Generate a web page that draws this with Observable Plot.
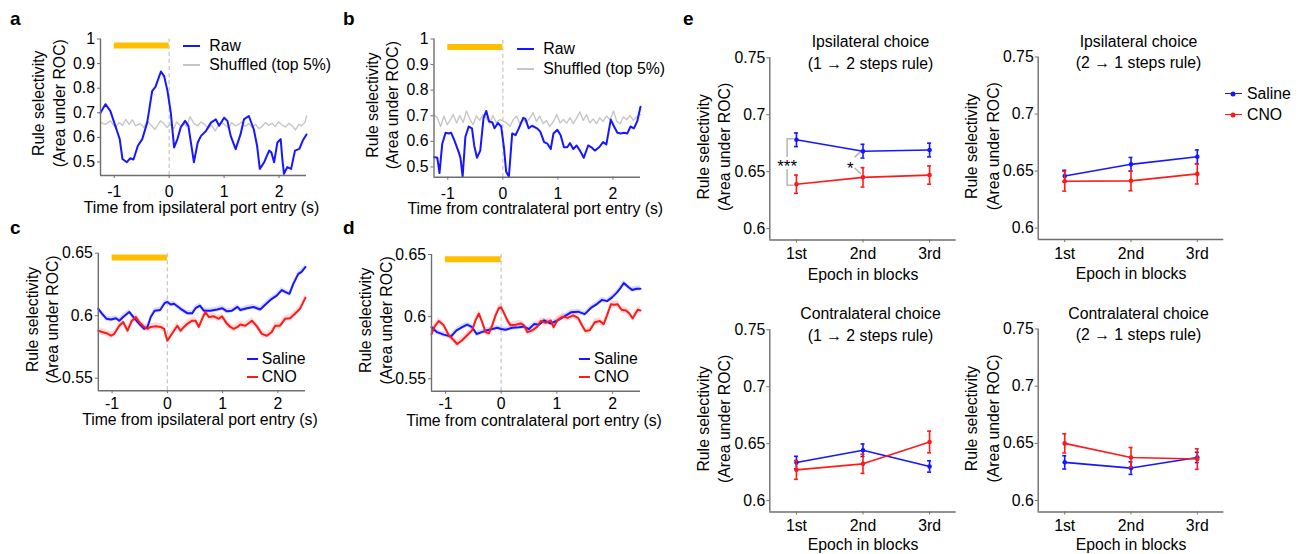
<!DOCTYPE html>
<html><head><meta charset="utf-8">
<script src="https://cdn.jsdelivr.net/npm/d3@7"></script>
<script src="https://cdn.jsdelivr.net/npm/@observablehq/plot@0.6"></script>
<style>
body{margin:0;background:#fff;}
#fig{position:relative;width:1300px;height:554px;overflow:hidden;font-family:"Liberation Sans",Arial,Helvetica,sans-serif;color:#000;background:#fff;}
.lab{position:absolute;font-weight:bold;font-size:19px;line-height:1;}
.leg{position:absolute;display:flex;align-items:center;height:20px;font-size:15.8px;white-space:nowrap;}
.sw{display:inline-block;position:relative;}
</style></head><body><div id="fig"></div>
<script>
// ---------------- data ----------------
const timeTicks = [-1, 0, 1, 2];
const rocTicksAB = [0.5, 0.6, 0.7, 0.8, 0.9, 1];
const rocTicksCD = [0.55, 0.6, 0.65];
const epochTicks = [0.6, 0.65, 0.7, 0.75];
const epochs = ["1st", "2nd", "3rd"];
const epochIndex = [1, 2, 3];
const cueWindow = [-1, 0];
const legendAB = ["Raw", "Shuffled (top 5%)"];
const legendGroups = ["Saline", "CNO"];
const sigLabels = ["***", "*"];

const rawA = [[-1.25,0.700],[-1.16,0.735],[-1.07,0.707],[-0.98,0.647],[-0.94,0.620],[-0.90,0.593],[-0.85,0.512],[-0.77,0.499],[-0.71,0.515],[-0.65,0.510],[-0.57,0.566],[-0.49,0.593],[-0.40,0.660],[-0.31,0.788],[-0.25,0.805],[-0.15,0.868],[-0.09,0.848],[-0.03,0.788],[0.03,0.700],[0.09,0.559],[0.15,0.593],[0.21,0.640],[0.29,0.667],[0.35,0.647],[0.45,0.499],[0.52,0.579],[0.58,0.606],[0.67,0.626],[0.76,0.660],[0.85,0.673],[0.91,0.647],[1.00,0.680],[1.06,0.667],[1.12,0.606],[1.21,0.552],[1.30,0.613],[1.36,0.673],[1.45,0.687],[1.54,0.633],[1.60,0.566],[1.65,0.472],[1.73,0.499],[1.82,0.546],[1.86,0.539],[1.91,0.499],[1.97,0.579],[2.03,0.593],[2.06,0.512],[2.09,0.452],[2.15,0.479],[2.22,0.472],[2.29,0.546],[2.37,0.553],[2.43,0.586],[2.50,0.612]];
const shufA = [[-1.25,0.660],[-1.16,0.653],[-1.07,0.667],[-0.98,0.640],[-0.91,0.660],[-0.85,0.649],[-0.79,0.673],[-0.73,0.653],[-0.67,0.671],[-0.61,0.647],[-0.53,0.657],[-0.46,0.640],[-0.40,0.667],[-0.32,0.647],[-0.26,0.633],[-0.21,0.649],[-0.16,0.667],[-0.10,0.657],[-0.04,0.640],[0.02,0.653],[0.08,0.636],[0.14,0.663],[0.20,0.647],[0.26,0.657],[0.32,0.644],[0.38,0.684],[0.45,0.657],[0.52,0.647],[0.58,0.663],[0.65,0.652],[0.71,0.636],[0.77,0.649],[0.84,0.626],[0.90,0.652],[0.96,0.660],[1.02,0.649],[1.08,0.638],[1.14,0.660],[1.20,0.647],[1.26,0.653],[1.32,0.663],[1.38,0.644],[1.45,0.656],[1.51,0.640],[1.57,0.653],[1.63,0.636],[1.69,0.644],[1.75,0.660],[1.81,0.649],[1.87,0.657],[1.93,0.644],[1.99,0.663],[2.05,0.651],[2.12,0.642],[2.18,0.657],[2.24,0.647],[2.30,0.630],[2.36,0.653],[2.41,0.647],[2.47,0.660],[2.50,0.687]];
const rawB = [[-1.25,0.539],[-1.19,0.536],[-1.15,0.476],[-1.10,0.591],[-1.04,0.634],[-0.98,0.631],[-0.94,0.634],[-0.88,0.604],[-0.80,0.557],[-0.77,0.536],[-0.73,0.462],[-0.68,0.618],[-0.62,0.658],[-0.56,0.651],[-0.52,0.584],[-0.47,0.536],[-0.41,0.564],[-0.35,0.692],[-0.30,0.719],[-0.25,0.678],[-0.19,0.674],[-0.15,0.651],[-0.09,0.672],[-0.03,0.658],[0.02,0.577],[0.06,0.482],[0.11,0.462],[0.17,0.631],[0.23,0.624],[0.29,0.651],[0.37,0.692],[0.41,0.688],[0.47,0.651],[0.53,0.661],[0.62,0.651],[0.68,0.638],[0.75,0.597],[0.81,0.591],[0.87,0.570],[0.92,0.631],[0.99,0.645],[1.05,0.624],[1.11,0.577],[1.17,0.577],[1.22,0.593],[1.28,0.570],[1.34,0.584],[1.40,0.564],[1.47,0.536],[1.55,0.584],[1.61,0.577],[1.67,0.564],[1.75,0.577],[1.82,0.597],[1.88,0.588],[1.96,0.685],[2.02,0.658],[2.08,0.634],[2.14,0.631],[2.20,0.634],[2.26,0.631],[2.32,0.658],[2.38,0.651],[2.44,0.678],[2.50,0.735]];
const shufB = [[-1.25,0.705],[-1.19,0.692],[-1.13,0.658],[-1.07,0.699],[-1.01,0.665],[-0.95,0.685],[-0.90,0.705],[-0.84,0.672],[-0.78,0.701],[-0.72,0.674],[-0.66,0.719],[-0.60,0.688],[-0.54,0.665],[-0.48,0.699],[-0.42,0.682],[-0.36,0.705],[-0.30,0.692],[-0.24,0.669],[-0.18,0.701],[-0.12,0.674],[-0.05,0.685],[0.01,0.678],[0.07,0.672],[0.13,0.658],[0.19,0.685],[0.25,0.699],[0.31,0.669],[0.37,0.685],[0.43,0.674],[0.49,0.692],[0.55,0.712],[0.61,0.678],[0.67,0.699],[0.73,0.669],[0.79,0.682],[0.85,0.658],[0.92,0.678],[0.98,0.705],[1.04,0.672],[1.10,0.685],[1.16,0.672],[1.22,0.692],[1.28,0.669],[1.34,0.692],[1.40,0.715],[1.46,0.682],[1.52,0.705],[1.58,0.672],[1.64,0.688],[1.70,0.669],[1.76,0.692],[1.82,0.678],[1.88,0.699],[1.95,0.685],[2.01,0.719],[2.07,0.678],[2.13,0.669],[2.19,0.696],[2.25,0.685],[2.31,0.701],[2.37,0.682],[2.43,0.696],[2.50,0.705]];
const salineC = [[-1.25,0.6055],[-1.18,0.6015],[-1.10,0.5975],[-1.02,0.597],[-0.93,0.598],[-0.87,0.596],[-0.80,0.599],[-0.69,0.603],[-0.60,0.598],[-0.51,0.5935],[-0.42,0.5895],[-0.36,0.591],[-0.30,0.599],[-0.23,0.604],[-0.13,0.6045],[-0.05,0.610],[0.00,0.611],[0.06,0.609],[0.12,0.6095],[0.24,0.6055],[0.36,0.602],[0.45,0.602],[0.51,0.606],[0.59,0.608],[0.66,0.604],[0.78,0.604],[0.90,0.605],[0.99,0.606],[1.08,0.6035],[1.17,0.604],[1.27,0.607],[1.32,0.6045],[1.44,0.606],[1.56,0.607],[1.68,0.605],[1.80,0.610],[1.89,0.6135],[1.98,0.616],[2.07,0.6205],[2.13,0.619],[2.21,0.6175],[2.28,0.6255],[2.37,0.6335],[2.43,0.635],[2.50,0.639]];
const cnoC = [[-1.25,0.588],[-1.18,0.587],[-1.10,0.586],[-1.02,0.584],[-0.96,0.5855],[-0.87,0.592],[-0.80,0.595],[-0.72,0.588],[-0.65,0.5955],[-0.57,0.599],[-0.51,0.595],[-0.42,0.591],[-0.36,0.5895],[-0.30,0.591],[-0.21,0.5915],[-0.12,0.591],[-0.06,0.5895],[0.00,0.580],[0.06,0.584],[0.12,0.588],[0.18,0.592],[0.24,0.588],[0.30,0.591],[0.36,0.5935],[0.45,0.596],[0.51,0.596],[0.57,0.591],[0.63,0.5975],[0.69,0.603],[0.75,0.599],[0.84,0.5995],[0.93,0.5975],[0.99,0.5995],[1.08,0.5935],[1.14,0.591],[1.20,0.5895],[1.27,0.591],[1.32,0.593],[1.41,0.592],[1.53,0.596],[1.62,0.5915],[1.71,0.5855],[1.80,0.584],[1.89,0.587],[1.95,0.592],[2.04,0.592],[2.13,0.5975],[2.22,0.598],[2.31,0.6015],[2.40,0.6055],[2.50,0.6145]];
const salineD = [[-1.25,0.5915],[-1.15,0.5875],[-1.03,0.5855],[-0.90,0.584],[-0.80,0.589],[-0.70,0.5915],[-0.61,0.5935],[-0.52,0.5915],[-0.44,0.586],[-0.35,0.5875],[-0.25,0.589],[-0.16,0.590],[-0.07,0.591],[0.00,0.590],[0.08,0.5895],[0.20,0.591],[0.32,0.5915],[0.41,0.592],[0.50,0.590],[0.59,0.594],[0.68,0.5935],[0.77,0.597],[0.89,0.5945],[1.01,0.597],[1.13,0.600],[1.25,0.6035],[1.38,0.604],[1.50,0.602],[1.61,0.607],[1.73,0.6105],[1.81,0.6135],[1.90,0.6125],[1.99,0.6155],[2.08,0.6195],[2.14,0.623],[2.20,0.627],[2.29,0.6235],[2.35,0.6215],[2.43,0.6225],[2.50,0.6225]];
const cnoD = [[-1.25,0.586],[-1.20,0.5915],[-1.12,0.5965],[-1.03,0.593],[-0.94,0.585],[-0.85,0.581],[-0.79,0.578],[-0.70,0.581],[-0.61,0.585],[-0.52,0.589],[-0.46,0.597],[-0.40,0.6025],[-0.34,0.5955],[-0.28,0.5875],[-0.22,0.5865],[-0.16,0.593],[-0.10,0.601],[-0.04,0.607],[0.00,0.6075],[0.06,0.602],[0.11,0.597],[0.17,0.593],[0.26,0.5935],[0.35,0.5945],[0.41,0.593],[0.47,0.5875],[0.56,0.589],[0.65,0.592],[0.71,0.5965],[0.80,0.595],[0.89,0.597],[0.94,0.5915],[1.01,0.597],[1.10,0.600],[1.19,0.599],[1.29,0.601],[1.38,0.599],[1.45,0.593],[1.51,0.5885],[1.59,0.589],[1.68,0.5955],[1.77,0.5965],[1.84,0.594],[1.90,0.601],[1.97,0.610],[2.03,0.6095],[2.09,0.610],[2.16,0.6055],[2.24,0.605],[2.30,0.6025],[2.36,0.5985],[2.41,0.6025],[2.45,0.6055],[2.50,0.605]];
const semSalineCD = 0.0021;
const semCnoCD = 0.0027;

// panel e: means and SEM per epoch
const ipsi12Saline = [0.678, 0.668, 0.669],   ipsi12SalineSem = [0.006, 0.006, 0.006];
const ipsi12Cno = [0.639, 0.645, 0.647],      ipsi12CnoSem = [0.008, 0.0085, 0.008];
const ipsi21Saline = [0.6457, 0.6559, 0.6625], ipsi21SalineSem = [0.005, 0.006, 0.006];
const ipsi21Cno = [0.6411, 0.6414, 0.6475],   ipsi21CnoSem = [0.0087, 0.0087, 0.0088];
const contra12Saline = [0.6334, 0.6442, 0.630], contra12SalineSem = [0.0055, 0.0055, 0.005];
const contra12Cno = [0.627, 0.6323, 0.6515],  contra12CnoSem = [0.0083, 0.0084, 0.0095];
const contra21Saline = [0.6334, 0.6284, 0.6377], contra21SalineSem = [0.0058, 0.0055, 0.0045];
const contra21Cno = [0.650, 0.6377, 0.6363],  contra21CnoSem = [0.0084, 0.0087, 0.009];

// ---------------- style ----------------
const FONT = '"Liberation Sans", Arial, Helvetica, sans-serif';
const FS = 15.8;
const BLUE = "#1616ff", RED = "#ff1a1a", SHUF = "#c6c6c6", AXIS = "#6e6e6e", GOLD = "#ffbf00";
const YLABEL = "Rule selectivity\n(Area under ROC)";
const fig = document.getElementById("fig");

function place(box, frame, opts) {
  const [ox, oy, w, h] = box;
  const svg = Plot.plot({
    width: w, height: h,
    marginLeft: frame.L - ox, marginRight: ox + w - frame.R,
    marginTop: frame.T - oy, marginBottom: oy + h - frame.B,
    style: {position: "absolute", left: ox + "px", top: oy + "px", background: "transparent",
            overflow: "visible", fontFamily: FONT, fontSize: FS + "px", maxWidth: "none", color: "#000"},
    ...opts
  });
  fig.appendChild(svg);
}

function timePanel(p) {
  const X = d => d[0], Y = d => d[1];
  const marks = [];
  for (const s of p.series) if (s.sem) marks.push(Plot.areaY(s.data, {x: X, y1: d => d[1] - s.sem, y2: d => d[1] + s.sem, fill: s.band, fillOpacity: 0.22}));
  marks.push(Plot.ruleX([0], {y1: p.yDomain[0], y2: p.yDomain[1], stroke: "#c9c9c9", strokeWidth: 1.3, strokeDasharray: "4,3"}));
  marks.push(Plot.ruleY([p.barY], {x1: cueWindow[0], x2: cueWindow[1], stroke: GOLD, strokeWidth: 6}));
  for (const s of p.series) marks.push(Plot.line(s.data, {x: X, y: Y, stroke: s.stroke, strokeWidth: s.width}));
  marks.push(Plot.ruleX([p.xDomain[0]], {stroke: AXIS, strokeWidth: 1.4}));
  marks.push(Plot.ruleY([p.yDomain[0]], {stroke: AXIS, strokeWidth: 1.4}));
  marks.push(Plot.axisX({ticks: timeTicks, tickSize: 3, tickPadding: p.xPad, tickFormat: d => String(d), label: null, stroke: AXIS, fill: "#000"}));
  marks.push(Plot.axisY({ticks: p.yTicks, tickSize: 3, tickPadding: 2.5, tickFormat: d => String(d), label: null, stroke: AXIS, fill: "#000"}));
  marks.push(Plot.text([YLABEL], {text: d => d, frameAnchor: "left", rotate: -90, textAnchor: "middle", lineAnchor: "middle", dx: p.ylDx, dy: p.ylDy, lineHeight: 1.3, fill: "#000"}));
  marks.push(Plot.text([p.xLabel], {text: d => d, frameAnchor: "bottom", textAnchor: "middle", lineAnchor: "middle", dx: -2, dy: p.xlDy, fill: "#000"}));
  place(p.box, p.frame, {x: {domain: p.xDomain}, y: {domain: p.yDomain}, marks});
}

function epochPanel(p) {
  const rows = (m, e) => m.map((v, k) => ({i: epochIndex[k], m: v, e: e[k]}));
  const groups = [[rows(p.saline, p.salineSem), BLUE], [rows(p.cno, p.cnoSem), RED]];
  const marks = [];
  if (p.sig) {
    const s0 = p.saline[0], c0 = p.cno[0], s1 = p.saline[1], c1 = p.cno[1];
    marks.push(Plot.line([[0.95, s0 + 0.001], [0.86, s0 + 0.001], [0.86, c0 - 0.001], [0.95, c0 - 0.001]], {x: d => d[0], y: d => d[1], stroke: "#b5b5b5", strokeWidth: 1.5}));
    marks.push(Plot.line([[1.96, s1 - 0.0006], [1.88, s1 - 0.005]], {x: d => d[0], y: d => d[1], stroke: "#b5b5b5", strokeWidth: 1.5}));
    marks.push(Plot.line([[1.88, c1 + 0.008], [1.96, c1 + 0.0035]], {x: d => d[0], y: d => d[1], stroke: "#b5b5b5", strokeWidth: 1.5}));
    marks.push(Plot.text([sigLabels[0]], {text: d => d, x: 0.86, y: (s0 + c0) / 2, dy: 5, fill: "#000", stroke: "white", strokeWidth: 6, fontSize: 17}));
    marks.push(Plot.text([sigLabels[1]], {text: d => d, x: 1.81, y: (s1 + c1) / 2, dy: 4, fill: "#000", fontSize: 17}));
  }
  for (const [d, c] of groups) marks.push(Plot.line(d, {x: "i", y: "m", stroke: c, strokeWidth: 1.6}));
  for (const [d, c] of groups) {
    marks.push(Plot.ruleX(d, {x: "i", y1: r => r.m - r.e, y2: r => r.m + r.e, stroke: c, strokeWidth: 1.6}));
    marks.push(Plot.ruleY(d, {y: r => r.m + r.e, x1: r => r.i - 0.03, x2: r => r.i + 0.03, stroke: c, strokeWidth: 1.6}));
    marks.push(Plot.ruleY(d, {y: r => r.m - r.e, x1: r => r.i - 0.03, x2: r => r.i + 0.03, stroke: c, strokeWidth: 1.6}));
    marks.push(Plot.dot(d, {x: "i", y: "m", r: 2.3, fill: c}));
  }
  marks.push(Plot.ruleX([0.6], {stroke: AXIS, strokeWidth: 1.4}));
  marks.push(Plot.ruleY([0.59], {stroke: AXIS, strokeWidth: 1.4}));
  marks.push(Plot.axisX({ticks: epochIndex, tickSize: 3, tickPadding: 5, tickFormat: i => epochs[i - 1], label: null, stroke: AXIS, fill: "#000"}));
  marks.push(Plot.axisY({ticks: epochTicks, tickSize: 3, tickPadding: 1.5, tickFormat: d => String(d), label: null, stroke: AXIS, fill: "#000"}));
  marks.push(Plot.text([YLABEL], {text: d => d, frameAnchor: "left", rotate: -90, textAnchor: "middle", lineAnchor: "middle", dx: -57, dy: -2, lineHeight: 1.35, fill: "#000"}));
  marks.push(Plot.text(["Epoch in blocks"], {text: d => d, frameAnchor: "bottom", textAnchor: "middle", lineAnchor: "middle", dy: p.xlDy, fill: "#000"}));
  marks.push(Plot.text([p.title], {text: d => d, frameAnchor: "top", textAnchor: "middle", lineAnchor: "middle", dx: 7.5, dy: -6.5, lineHeight: 1.37, fill: "#000"}));
  place(p.box, p.frame, {x: {domain: [0.6, 3.4]}, y: {domain: [0.59, 0.75]}, marks});
}

function addLegend(x0, x1, tx, rows) {
  for (const r of rows) {
    const row = document.createElement("div");
    row.className = "leg";
    row.style.left = x0 + "px";
    row.style.top = (r.y - 10) + "px";
    const sw = document.createElement("span");
    sw.className = "sw";
    sw.style.width = (x1 - x0) + "px";
    sw.style.height = r.w + "px";
    sw.style.background = r.color;
    sw.style.marginRight = (tx - x1) + "px";
    if (r.dot) {
      const d = document.createElement("span");
      d.style.cssText = `position:absolute;left:50%;top:50%;width:5px;height:5px;border-radius:50%;background:${r.color};transform:translate(-50%,-50%)`;
      sw.appendChild(d);
    }
    row.appendChild(sw);
    row.appendChild(document.createTextNode(r.text));
    fig.appendChild(row);
  }
}
function addLetter(ch, left, top) {
  const el = document.createElement("div");
  el.className = "lab"; el.textContent = ch;
  el.style.left = left + "px"; el.style.top = top + "px";
  fig.appendChild(el);
}

// ---------------- panels ----------------
timePanel({box: [0, 0, 330, 225], frame: {L: 100, R: 306, T: 38.5, B: 175},
  xDomain: [-1.25, 2.5], yDomain: [0.445, 1], yTicks: rocTicksAB, barY: 0.974, xPad: 7.2,
  series: [{data: shufA, stroke: SHUF, width: 1.4}, {data: rawA, stroke: BLUE, width: 2}],
  xLabel: "Time from ipsilateral port entry (s)", ylDx: -52.5, ylDy: -4, xlDy: 32});
timePanel({box: [330, 0, 330, 225], frame: {L: 433.5, R: 640, T: 38.5, B: 176.7},
  xDomain: [-1.25, 2.5], yDomain: [0.46, 1], yTicks: rocTicksAB, barY: 0.969, xPad: 7.2,
  series: [{data: shufB, stroke: SHUF, width: 1.4}, {data: rawB, stroke: BLUE, width: 2}],
  xLabel: "Time from contralateral port entry (s)", ylDx: -52.5, ylDy: -3, xlDy: 31.6});
timePanel({box: [0, 228, 330, 226], frame: {L: 97.8, R: 305, T: 252.7, B: 390.2},
  xDomain: [-1.25, 2.5], yDomain: [0.54, 0.65], yTicks: rocTicksCD, barY: 0.6465, xPad: 3.7,
  series: [{data: salineC, stroke: BLUE, width: 2, sem: semSalineCD, band: "#5a5aff"}, {data: cnoC, stroke: RED, width: 2, sem: semCnoCD, band: "#ff5a5a"}],
  xLabel: "Time from ipsilateral port entry (s)", ylDx: -57, ylDy: -2.5, xlDy: 29});
timePanel({box: [330, 228, 330, 226], frame: {L: 431, R: 640, T: 254, B: 390.7},
  xDomain: [-1.25, 2.5], yDomain: [0.54, 0.65], yTicks: rocTicksCD, barY: 0.6462, xPad: 3.7,
  series: [{data: salineD, stroke: BLUE, width: 2, sem: semSalineCD, band: "#5a5aff"}, {data: cnoD, stroke: RED, width: 2, sem: semCnoCD, band: "#ff5a5a"}],
  xLabel: "Time from contralateral port entry (s)", ylDx: -56.5, ylDy: -2.5, xlDy: 29.6});

epochPanel({box: [690, 0, 280, 290], frame: {L: 769.3, R: 955.7, T: 57.3, B: 239.5},
  title: "Ipsilateral choice\n(1 → 2 steps rule)", saline: ipsi12Saline, salineSem: ipsi12SalineSem,
  cno: ipsi12Cno, cnoSem: ipsi12CnoSem, sig: true, xlDy: 34.7});
epochPanel({box: [950, 0, 350, 290], frame: {L: 1037.7, R: 1223.3, T: 56.5, B: 239},
  title: "Ipsilateral choice\n(2 → 1 steps rule)", saline: ipsi21Saline, salineSem: ipsi21SalineSem,
  cno: ipsi21Cno, cnoSem: ipsi21CnoSem, xlDy: 34.7});
epochPanel({box: [690, 280, 280, 274], frame: {L: 769.3, R: 955.7, T: 329.3, B: 511.5},
  title: "Contralateral choice\n(1 → 2 steps rule)", saline: contra12Saline, salineSem: contra12SalineSem,
  cno: contra12Cno, cnoSem: contra12CnoSem, xlDy: 32.5});
epochPanel({box: [950, 280, 350, 274], frame: {L: 1037.7, R: 1223.3, T: 328.5, B: 511.5},
  title: "Contralateral choice\n(2 → 1 steps rule)", saline: contra21Saline, salineSem: contra21SalineSem,
  cno: contra21Cno, cnoSem: contra21CnoSem, xlDy: 32.5});

// ---------------- legends & letters ----------------
addLegend(182.7, 200, 209.3, [{y: 46, color: BLUE, w: 2, text: legendAB[0]}, {y: 65, color: SHUF, w: 1.5, text: legendAB[1]}]);
addLegend(517.3, 534, 543.3, [{y: 49.3, color: BLUE, w: 2, text: legendAB[0]}, {y: 69, color: SHUF, w: 1.5, text: legendAB[1]}]);
addLegend(246.7, 258.3, 261.7, [{y: 359.3, color: BLUE, w: 2, text: legendGroups[0]}, {y: 376.7, color: RED, w: 2, text: legendGroups[1]}]);
addLegend(579.3, 590, 594, [{y: 359.3, color: BLUE, w: 2, text: legendGroups[0]}, {y: 376.7, color: RED, w: 2, text: legendGroups[1]}]);
addLegend(1225, 1241.7, 1247, [{y: 93.5, color: BLUE, w: 1.6, text: legendGroups[0], dot: true}, {y: 114.5, color: RED, w: 1.6, text: legendGroups[1], dot: true}]);

addLetter("a", 10, 9);
addLetter("b", 343, 9);
addLetter("c", 10, 218);
addLetter("d", 343, 218);
addLetter("e", 683, 9);
</script></body></html>
